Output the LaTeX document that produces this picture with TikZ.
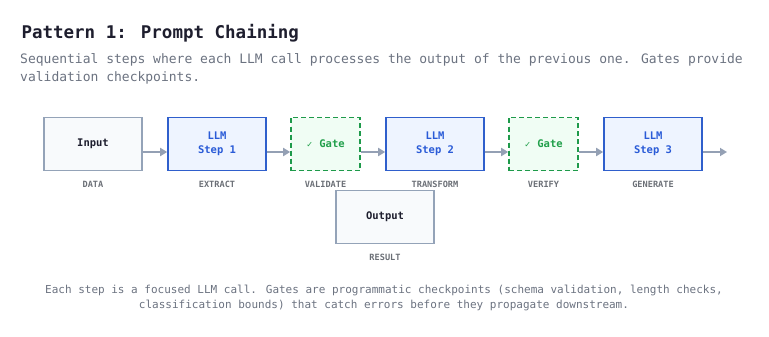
\documentclass[tikz,border=0pt]{standalone}
\usepackage{fontspec}
\setmainfont{DejaVu Sans Mono}
\newfontfamily\checkfont{DejaVu Sans}
\usetikzlibrary{arrows.meta}
\definecolor{titlec}{HTML}{1E1E2E}
\definecolor{subc}{HTML}{6B7280}
\definecolor{grayb}{HTML}{94A3B8}
\definecolor{grayf}{HTML}{F8FAFC}
\definecolor{blueb}{HTML}{2F5FCC}
\definecolor{bluef}{HTML}{EEF4FF}
\definecolor{bluet}{HTML}{2A5BD7}
\definecolor{greenb}{HTML}{1E9A4A}
\definecolor{greenf}{HTML}{F0FDF4}
\definecolor{greent}{HTML}{22A04B}
\definecolor{labc}{HTML}{6B6F76}
\definecolor{arrowc}{HTML}{94A0B4}
\tikzset{
  x=1pt, y=-1pt,
  box/.style={minimum width=98pt, minimum height=53pt, line width=1.6pt, inner sep=0pt, align=center, font=\fontsize{10.5}{14}\selectfont\bfseries},
  databox/.style={box, draw=grayb, fill=grayf, text=titlec},
  llmbox/.style={box, draw=blueb, fill=bluef, text=bluet},
  gatebox/.style={box, minimum width=69pt, draw=greenb, fill=greenf, text=greent, dash pattern=on 5pt off 3pt},
  lab/.style={font=\fontsize{8.6}{10}\selectfont\bfseries, text=labc},
  flow/.style={draw=arrowc, line width=1.8pt, -{Triangle[length=7pt,width=8pt]}},
}
\begin{document}
\begin{tikzpicture}
\useasboundingbox (0,0) rectangle (769,337);
\node[anchor=west, text=titlec, font=\fontsize{17.5}{20}\selectfont\bfseries] (title) at (18,33) {Pattern 1: Prompt Chaining};
\node[anchor=north west, text=subc, align=left, font=\fontsize{13}{18}\selectfont, inner sep=0pt] (sub) at (20,53) {Sequential steps where each LLM call processes the output of the previous one. Gates provide\\validation checkpoints.};

\node[databox] (in) at (93,144) {Input};
\node[llmbox] (s1) at (217,144) {LLM\\Step 1};
\node[gatebox] (g1) at (325.5,144) {{\checkfont\fontsize{8}{10}\selectfont ✓} Gate};
\node[llmbox] (s2) at (435,144) {LLM\\Step 2};
\node[gatebox] (g2) at (543.5,144) {{\checkfont\fontsize{8}{10}\selectfont ✓} Gate};
\node[llmbox] (s3) at (653,144) {LLM\\Step 3};
\node[databox] (out) at (385,217) {Output};
\coordinate (end) at (727,152);

\node[lab] (l0) at (93,184) {DATA};
\node[lab] (l1) at (217,184) {EXTRACT};
\node[lab] (l2) at (325.5,184) {VALIDATE};
\node[lab] (l3) at (435,184) {TRANSFORM};
\node[lab] (l4) at (543.5,184) {VERIFY};
\node[lab] (l5) at (653,184) {GENERATE};
\node[lab] (l6) at (385,257) {RESULT};

\draw[flow] (in.east |- 0,152) -- (s1.west |- 0,152);
\draw[flow] (s1.east |- 0,152) -- (g1.west |- 0,152);
\draw[flow] (g1.east |- 0,152) -- (s2.west |- 0,152);
\draw[flow] (s2.east |- 0,152) -- (g2.west |- 0,152);
\draw[flow] (g2.east |- 0,152) -- (s3.west |- 0,152);
\draw[flow] (s3.east |- 0,152) -- (end);

\node[text=subc, align=center, font=\fontsize{11}{15}\selectfont, inner sep=0pt] (foot) at (384,298) {Each step is a focused LLM call. Gates are programmatic checkpoints (schema validation, length checks,\\classification bounds) that catch errors before they propagate downstream.};
\end{tikzpicture}
\end{document}
